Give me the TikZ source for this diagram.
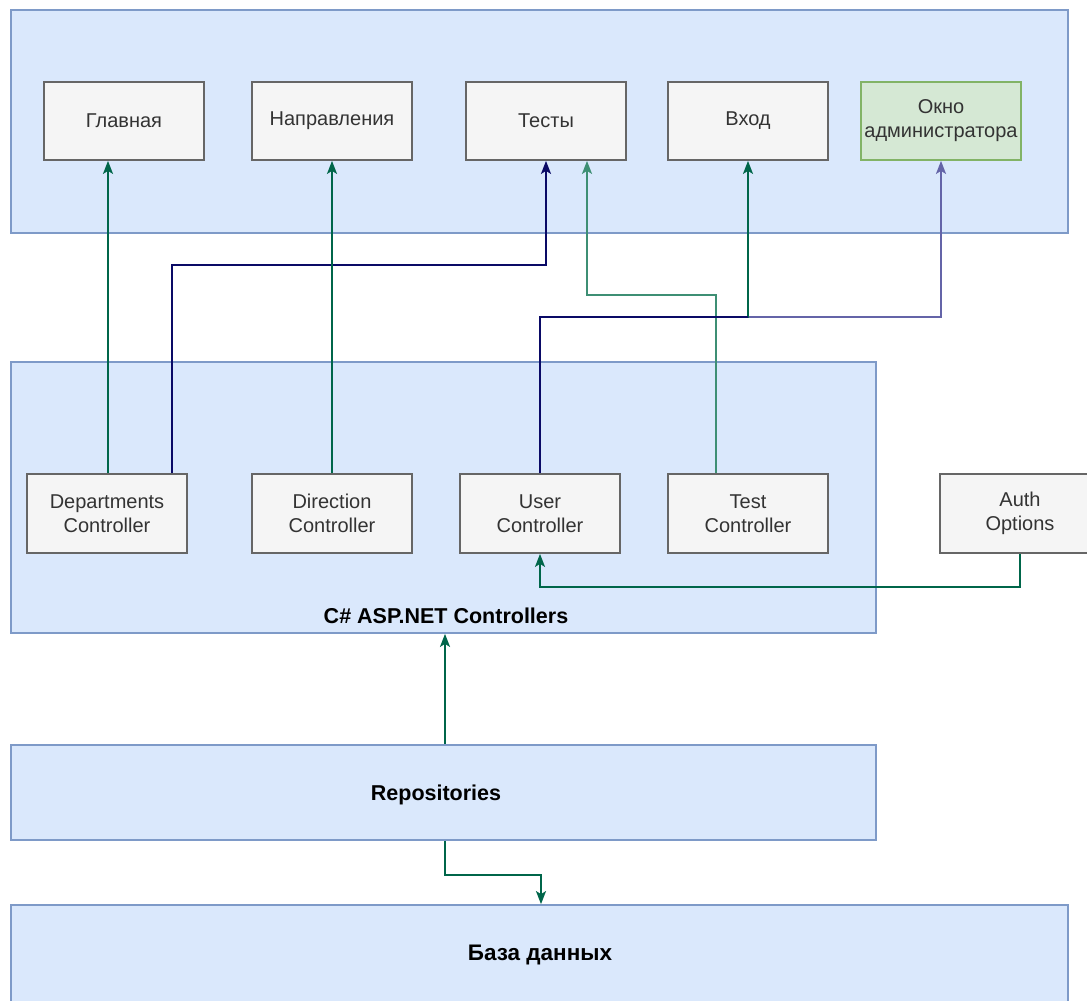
\documentclass[tikz,border=0pt]{standalone}
\usepackage{fontspec}
\setmainfont{Liberation Sans}
\usetikzlibrary{arrows.meta}
\definecolor{contfill}{HTML}{DAE8FC}
\definecolor{contdraw}{HTML}{7E9AC8}
\definecolor{boxfill}{HTML}{F5F5F5}
\definecolor{boxdraw}{HTML}{666666}
\definecolor{grfill}{HTML}{D5E8D4}
\definecolor{grdraw}{HTML}{82B366}
\definecolor{txtgray}{HTML}{333333}
\definecolor{arrgreen}{HTML}{00664A}
\definecolor{arrteal}{HTML}{3E8F74}
\definecolor{arrnavy}{HTML}{0A0A66}
\definecolor{arrpurple}{HTML}{6464A8}
\begin{document}
\begin{tikzpicture}[x=1pt,y=-1pt,
  container/.style={draw=contdraw,fill=contfill,line width=1.8pt,inner sep=0pt},
  pagebox/.style={draw=boxdraw,fill=boxfill,line width=1.8pt,minimum width=160pt,minimum height=78pt,
     inner sep=0pt,align=center,text=txtgray,font=\fontsize{20}{24}\selectfont},
  greenbox/.style={pagebox,draw=grdraw,fill=grfill},
  biglabel/.style={font=\bfseries\fontsize{21.5}{24}\selectfont,text=black,inner sep=0pt},
  tip/.style={-{Stealth[length=13pt,width=10pt,inset=3pt]}},
  garrow/.style={draw=arrgreen,line width=1.8pt,tip},
  tarrow/.style={draw=arrteal,line width=1.8pt,tip},
  narrow/.style={draw=arrnavy,line width=1.8pt,tip},
  parrow/.style={draw=arrpurple,line width=1.8pt,tip}
]
\useasboundingbox[fill=white] (0,0) rectangle (1087,1001);

% containers
\node[container,minimum width=1057pt,minimum height=223pt] (front) at (539.5,121.5) {};
\node[container,minimum width=865pt,minimum height=271pt] (ctrl) at (443.5,497.5) {};
\node[container,minimum width=865pt,minimum height=95pt] (repo) at (443.5,792.5) {};
\node[container,minimum width=1057pt,minimum height=100pt] (db) at (539.5,955) {};
\node[biglabel] (repolabel) at (436,795) {Repositories};
\node[biglabel,font=\bfseries\fontsize{22.5}{24}\selectfont] (dblabel) at (540,955) {База данных};
\node[biglabel] (ctrllabel) at (446,616) {C\# ASP.NET Controllers};

% top page boxes
\node[pagebox] (glav) at (124,121) {Главная};
\node[pagebox] (napr) at (332,121) {Направления};
\node[pagebox] (tests) at (546,121) {Тесты};
\node[pagebox] (vhod) at (748,121) {Вход};
\node[greenbox] (okno) at (941,121) {Окно\\администратора};

% controllers
\node[pagebox,minimum height=79pt] (dep) at (107,513.5) {Departments\\Controller};
\node[pagebox,minimum height=79pt] (dir) at (332,513.5) {Direction\\Controller};
\node[pagebox,minimum height=79pt] (user) at (540,513.5) {User\\Controller};
\node[pagebox,minimum height=79pt] (test) at (748,513.5) {Test\\Controller};
\node[pagebox,minimum height=79pt] (auth) at (1020,513.5) {Auth\\Options};

% connectors
\draw[garrow] ([xshift=1pt]dep.north) -- ([xshift=1pt]dep.north |- glav.south);
\draw[narrow] ([xshift=65pt]dep.north) -- ++(0,-208) -| (tests.south);
\draw[garrow] (dir.north) -- (dir.north |- napr.south);
\draw[tarrow] ([xshift=-32pt]test.north) -- ++(0,-178) -| ([xshift=41pt]tests.south);
\draw[parrow] (user.north) -- ++(0,-156) -| (okno.south);
\draw[garrow] (user.north) -- ++(0,-156) -| (vhod.south);
\draw[draw=arrnavy,line width=1.8pt] (user.north) -- ++(0,-156) -- ++(208,0);
\draw[garrow] (auth.south) -- ++(0,33) -| (user.south);
\draw[garrow] ([xshift=1.5pt]repo.north) -- ([xshift=1.5pt]repo.north |- ctrl.south);
\draw[garrow] ([xshift=1.5pt]repo.south) -- ++(0,34) -| ([xshift=1.5pt]db.north);
\end{tikzpicture}
\end{document}
